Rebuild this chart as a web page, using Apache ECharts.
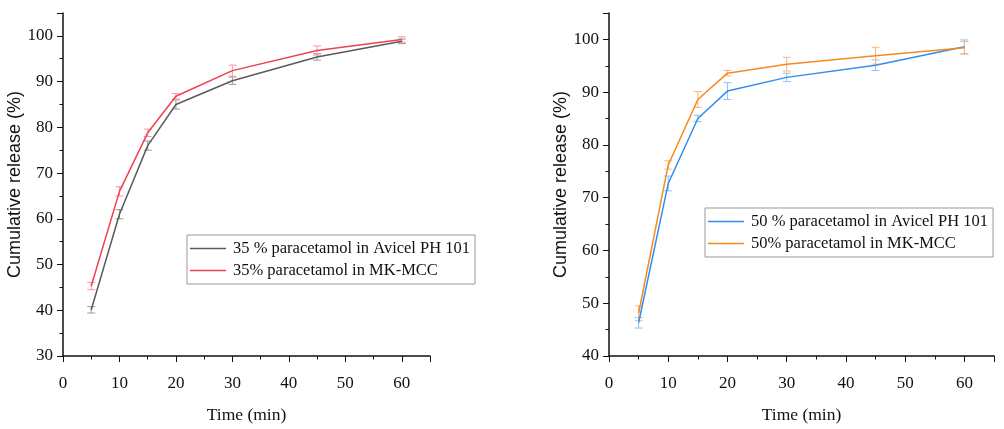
<!DOCTYPE html>
<html>
<head>
<meta charset="utf-8">
<script src="https://cdn.jsdelivr.net/npm/echarts@6/dist/echarts.min.js"></script>
<style>
html,body{margin:0;padding:0;background:#fff;}
#chart{width:1004px;height:429px;}
</style>
</head>
<body>
<div id="chart"></div>
<script>
// ---- data ----
const times = [5, 10, 15, 20, 30, 45, 60];
const xTicks = [0, 10, 20, 30, 40, 50, 60];
// Left panel (35 % paracetamol)
const avicel35 = [40.1, 61.0, 76.0, 85.0, 90.2, 95.4, 98.8];
const avicel35Err = [0.7, 1.0, 1.0, 1.0, 0.8, 0.7, 0.5];
const mkmcc35 = [45.3, 66.0, 78.8, 86.8, 92.4, 96.8, 99.2];
const mkmcc35Err = [0.8, 1.0, 0.8, 0.6, 1.2, 1.0, 0.6];
// Right panel (50 % paracetamol)
const avicel50 = [46.3, 72.7, 85.0, 90.2, 92.8, 95.1, 98.6];
const avicel50Err = [1.0, 1.4, 0.6, 1.6, 0.8, 1.0, 1.3];
const mkmcc50 = [48.1, 76.2, 88.6, 93.6, 95.3, 96.9, 98.4];
const mkmcc50Err = [1.4, 0.8, 1.5, 0.5, 1.3, 1.6, 1.2];

const names = {
  a35: '35 % paracetamol in Avicel PH 101',
  m35: '35% paracetamol in MK-MCC',
  a50: '50 % paracetamol in Avicel PH 101',
  m50: '50% paracetamol in MK-MCC'
};

const serif = 'Liberation Serif';
const sans = 'Liberation Sans';

function pts(vals){ return times.map((t,i)=>[t, vals[i]]); }
function errs(vals, e){ return times.map((t,i)=>[t, vals[i]-e[i], vals[i]+e[i]]); }

function errRender(params, api){
  const x = api.value(0), lo = api.value(1), hi = api.value(2);
  const p1 = api.coord([x, lo]), p2 = api.coord([x, hi]);
  const w = 4;
  const st = {stroke: api.visual('color'), lineWidth: 1};
  return {type:'group', children:[
    {type:'line', shape:{x1:p1[0], y1:p1[1], x2:p2[0], y2:p2[1]}, style:st},
    {type:'line', shape:{x1:p1[0]-w, y1:p1[1], x2:p1[0]+w, y2:p1[1]}, style:st},
    {type:'line', shape:{x1:p2[0]-w, y1:p2[1], x2:p2[0]+w, y2:p2[1]}, style:st}
  ]};
}

function lineSeries(name, vals, color, idx){
  return {name:name, type:'line', data:pts(vals), xAxisIndex:idx, yAxisIndex:idx,
    symbol:'none', color:color, lineStyle:{width:1.5, color:color}, z:3};
}
function errSeries(vals, e, color, idx){
  return {type:'custom', data:errs(vals, e), xAxisIndex:idx, yAxisIndex:idx,
    renderItem:errRender, itemStyle:{color:color}, encode:{x:0, y:[1,2]}, z:2, silent:true};
}

function xAxis(idx){
  return {type:'value', gridIndex:idx, min:0, max:65, interval:10,
    name:'Time (min)', nameLocation:'middle', nameGap:50,
    nameTextStyle:{fontFamily:serif, fontSize:17.5, color:'#111'},
    axisLine:{show:true, lineStyle:{color:'#111', width:1.5}},
    axisTick:{show:true, inside:false, length:6, lineStyle:{color:'#111'}},
    minorTick:{show:true, splitNumber:2, length:3.5, lineStyle:{color:'#111'}},
    axisLabel:{fontFamily:serif, fontSize:17, color:'#111', margin:19, showMaxLabel:false},
    splitLine:{show:false}
  };
}
function yAxis(idx, min, gap){
  return {type:'value', gridIndex:idx, min:min, max:105, interval:10,
    name:'Cumulative release (%)', nameLocation:'middle', nameGap:gap, nameRotate:90,
    nameTextStyle:{fontFamily:sans, fontSize:18, color:'#111'},
    axisLine:{show:true, lineStyle:{color:'#111', width:1.5}},
    axisTick:{show:true, inside:false, length:6, lineStyle:{color:'#111'}},
    minorTick:{show:true, splitNumber:2, length:3.5, lineStyle:{color:'#111'}},
    axisLabel:{fontFamily:serif, fontSize:17, color:'#111', margin:10, showMaxLabel:false},
    splitLine:{show:false}
  };
}

const legendCommon = {
  orient:'vertical', icon:'rect', itemWidth:36, itemHeight:1.5, itemGap:5,
  padding:[5, 5, 5, 3], borderColor:'#999', borderWidth:1, backgroundColor:'#fff',
  textStyle:{fontFamily:serif, fontSize:16.5, color:'#111', padding:[0,0,0,2]}
};

const chart = echarts.init(document.getElementById('chart'), null, {renderer:'canvas'});
chart.setOption({
  animation:false,
  backgroundColor:'#fff',
  grid:[
    {left:63, top:13, width:367, height:349},
    {left:609, top:13, width:385, height:349}
  ],
  xAxis:[xAxis(0), xAxis(1)],
  yAxis:[yAxis(0, 30, 37), yAxis(1, 40, 34)],
  legend:[
    Object.assign({}, legendCommon, {left:187, top:235, data:[names.a35, names.m35]}),
    Object.assign({}, legendCommon, {left:705, top:208, data:[names.a50, names.m50]})
  ],
  series:[
    errSeries(avicel35, avicel35Err, '#9a9a9a', 0),
    errSeries(mkmcc35, mkmcc35Err, '#f59a9f', 0),
    lineSeries(names.a35, avicel35, '#5a5a5a', 0),
    lineSeries(names.m35, mkmcc35, '#f0414c', 0),
    errSeries(avicel50, avicel50Err, '#8cc3f7', 1),
    errSeries(mkmcc50, mkmcc50Err, '#f9b67a', 1),
    lineSeries(names.a50, avicel50, '#2f8ef0', 1),
    lineSeries(names.m50, mkmcc50, '#f7891f', 1)
  ]
});
</script>
</body>
</html>
